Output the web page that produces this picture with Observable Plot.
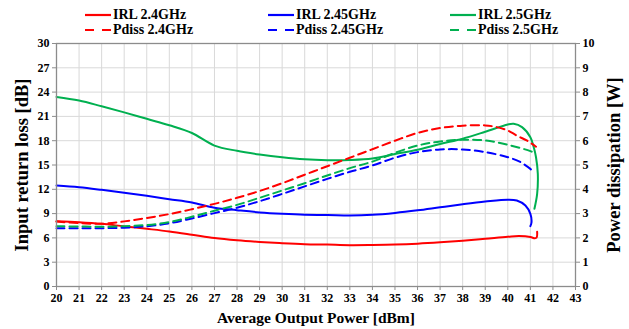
<!DOCTYPE html>
<html>
<head>
<meta charset="utf-8">
<script src="https://cdn.jsdelivr.net/npm/d3@7"></script>
<script src="https://cdn.jsdelivr.net/npm/@observablehq/plot@0.6"></script>
<style>
  body { margin: 0; background: #fff; }
  #legend { position: relative; width: 629px; height: 36px; font: bold 14px "Liberation Serif", "Times New Roman", serif; color: #000; }
  .item { position: absolute; height: 16px; line-height: 16px; white-space: nowrap; display: flex; align-items: center; }
  .item svg { margin-right: 2px; }
</style>
</head>
<body>
<div id="legend"></div>
<div id="chart"></div>
<script>
// ---- Data ----
const xTicks = d3.range(20, 44);
const yTicksDb = d3.range(0, 31, 3);

// IRL 2.4GHz (dB)
const irl24X = [20,21,22,23,24,25,26,27,28,29,30,31,32,33,34,35,36,37,38,39,40,40.5,41,41.2,41.28,41.3];
const irl24Y = [8.06,7.94,7.74,7.42,7.12,6.8,6.4,5.98,5.7,5.5,5.35,5.23,5.17,5.1,5.12,5.17,5.28,5.45,5.66,5.9,6.15,6.24,6.12,5.95,6.05,6.75];
// IRL 2.45GHz (dB)
const irl245X = [20,21,22,23,24,25,26,27,28,29,30,31,32,33,34,35,36,37,38,39,40,40.4,40.78,41,41.05,41.0];
const irl245Y = [12.47,12.26,11.93,11.56,11.19,10.78,10.38,9.72,9.42,9.15,8.97,8.85,8.83,8.77,8.85,9.08,9.4,9.78,10.15,10.48,10.72,10.62,10.0,8.97,7.9,7.45];
// IRL 2.5GHz (dB)
const irl25X = [20,21,22,23,24,25,26,27,28,29,30,31,32,33,34,35,36,37,38,39,40,40.26,40.63,41,41.15,41.25,41.33,41.3,41.18];
const irl25Y = [23.4,22.96,22.25,21.5,20.7,19.9,18.95,17.4,16.75,16.3,15.95,15.7,15.6,15.62,15.8,16.35,16.88,17.6,18.25,19.1,20.0,20.08,19.67,18.43,17.2,15.96,13.9,11.44,9.59];
// Pdiss 2.4GHz (W)
const pd24X = [20,21,22,23,24,25,26,27,28,29,30,31,32,33,34,35,36,37,38,39,39.5,40,40.4,40.86,41.25];
const pd24Y = [2.67,2.61,2.58,2.68,2.82,2.98,3.18,3.4,3.65,3.93,4.25,4.6,4.95,5.3,5.65,6.0,6.32,6.52,6.62,6.63,6.56,6.42,6.21,6.0,5.75];
// Pdiss 2.45GHz (W)
const pd245X = [20,21,22,23,24,25,26,27,28,29,30,31,32,33,34,35,36,37,38,39,40,40.56,41,41.08];
const pd245Y = [2.4,2.4,2.4,2.42,2.48,2.6,2.8,3.02,3.24,3.51,3.81,4.12,4.43,4.72,4.98,5.3,5.53,5.64,5.64,5.53,5.32,5.12,4.84,4.77];
// Pdiss 2.5GHz (W)
const pd25X = [20,21,22,23,24,25,26,27,28,29,30,31,32,33,34,35,36,37,38,39,40,41,41.25];
const pd25Y = [2.48,2.47,2.46,2.48,2.53,2.65,2.87,3.12,3.36,3.65,3.95,4.25,4.57,4.87,5.14,5.5,5.8,5.97,6.04,6.01,5.83,5.57,5.46];

const seriesNames = ["IRL 2.4GHz","IRL 2.45GHz","IRL 2.5GHz","Pdiss 2.4GHz","Pdiss 2.45GHz","Pdiss 2.5GHz"];
const seriesColors = ["#ff0000","#0000ff","#00b050","#ff0000","#0000ff","#00b050"];

const series = [
  {name: seriesNames[0], color: seriesColors[0], dashed: false, xs: irl24X, ys: irl24Y},
  {name: seriesNames[1], color: seriesColors[1], dashed: false, xs: irl245X, ys: irl245Y},
  {name: seriesNames[2], color: seriesColors[2], dashed: false, xs: irl25X, ys: irl25Y},
  {name: seriesNames[3], color: seriesColors[3], dashed: true, xs: pd24X, ys: pd24Y},
  {name: seriesNames[4], color: seriesColors[4], dashed: true, xs: pd245X, ys: pd245Y},
  {name: seriesNames[5], color: seriesColors[5], dashed: true, xs: pd25X, ys: pd25Y}
];

// ---- Legend ----
const legend = document.getElementById("legend");
const legendLeft = [85, 268, 450];
series.forEach((s, i) => {
  const col = i % 3, row = Math.floor(i / 3);
  const div = document.createElement("div");
  div.className = "item";
  div.style.left = legendLeft[col] + "px";
  div.style.top = (row === 0 ? 7 : 22) + "px";
  div.innerHTML = `<svg width="26" height="16"><line x1="0" x2="26" y1="8" y2="8" stroke="${s.color}" stroke-width="2.2" ${s.dashed ? 'stroke-dasharray="9,8"' : ''}/></svg><span>${s.name}</span>`;
  legend.appendChild(div);
});

// ---- Chart ----
const font = "'Liberation Serif', 'Times New Roman', serif";
const axisGray = "#8c8c8c";

const lineMarks = series.map(s => {
  const rows = s.xs.map((x, i) => ({x, v: s.ys[i]}));
  return Plot.line(rows, {
    x: "x",
    y: d => s.dashed ? d.v * 3 : d.v,
    stroke: s.color,
    strokeWidth: 2,
    strokeDasharray: s.dashed ? "8,5" : null,
    curve: "catmull-rom"
  });
});

const chart = Plot.plot({
  width: 629,
  height: 293,
  marginTop: 7,
  marginBottom: 43,
  marginLeft: 56,
  marginRight: 54,
  style: {fontFamily: font, fontWeight: "bold", color: "#000", background: "#fff"},
  x: {domain: [20, 43]},
  y: {domain: [0, 30]},
  marks: [
    Plot.gridX(xTicks, {stroke: "#d9d9d9", strokeOpacity: 1}),
    Plot.gridY(yTicksDb, {stroke: "#d9d9d9", strokeOpacity: 1}),
    ...lineMarks,
    Plot.frame({stroke: axisGray, strokeWidth: 1.3}),
    Plot.axisX({ticks: xTicks, tickSize: 4, tickPadding: 3, fontSize: 12, fontWeight: "bold", stroke: axisGray, fill: "#000", label: null}),
    Plot.axisY({anchor: "left", ticks: yTicksDb, tickSize: 4, tickPadding: 3, fontSize: 12, fontWeight: "bold", stroke: axisGray, fill: "#000", label: null}),
    Plot.axisY({anchor: "right", ticks: yTicksDb, tickFormat: d => String(d / 3), tickSize: 4, tickPadding: 3, fontSize: 12, fontWeight: "bold", stroke: axisGray, fill: "#000", label: null}),
    Plot.text(["Input return loss [dB]"], {text: d => d, frameAnchor: "left", dx: -34, rotate: -90, textAnchor: "middle", lineAnchor: "middle", fontSize: 18.5, fontWeight: "bold", fill: "#000"}),
    Plot.text(["Power dissipation [W]"], {text: d => d, frameAnchor: "right", dx: 39, rotate: -90, textAnchor: "middle", lineAnchor: "middle", fontSize: 18.5, fontWeight: "bold", fill: "#000"}),
    Plot.text(["Average Output Power [dBm]"], {text: d => d, frameAnchor: "bottom", dy: 32, textAnchor: "middle", lineAnchor: "middle", fontSize: 15.5, fontWeight: "bold", fill: "#000"})
  ]
});
document.getElementById("chart").appendChild(chart);
</script>
</body>
</html>
